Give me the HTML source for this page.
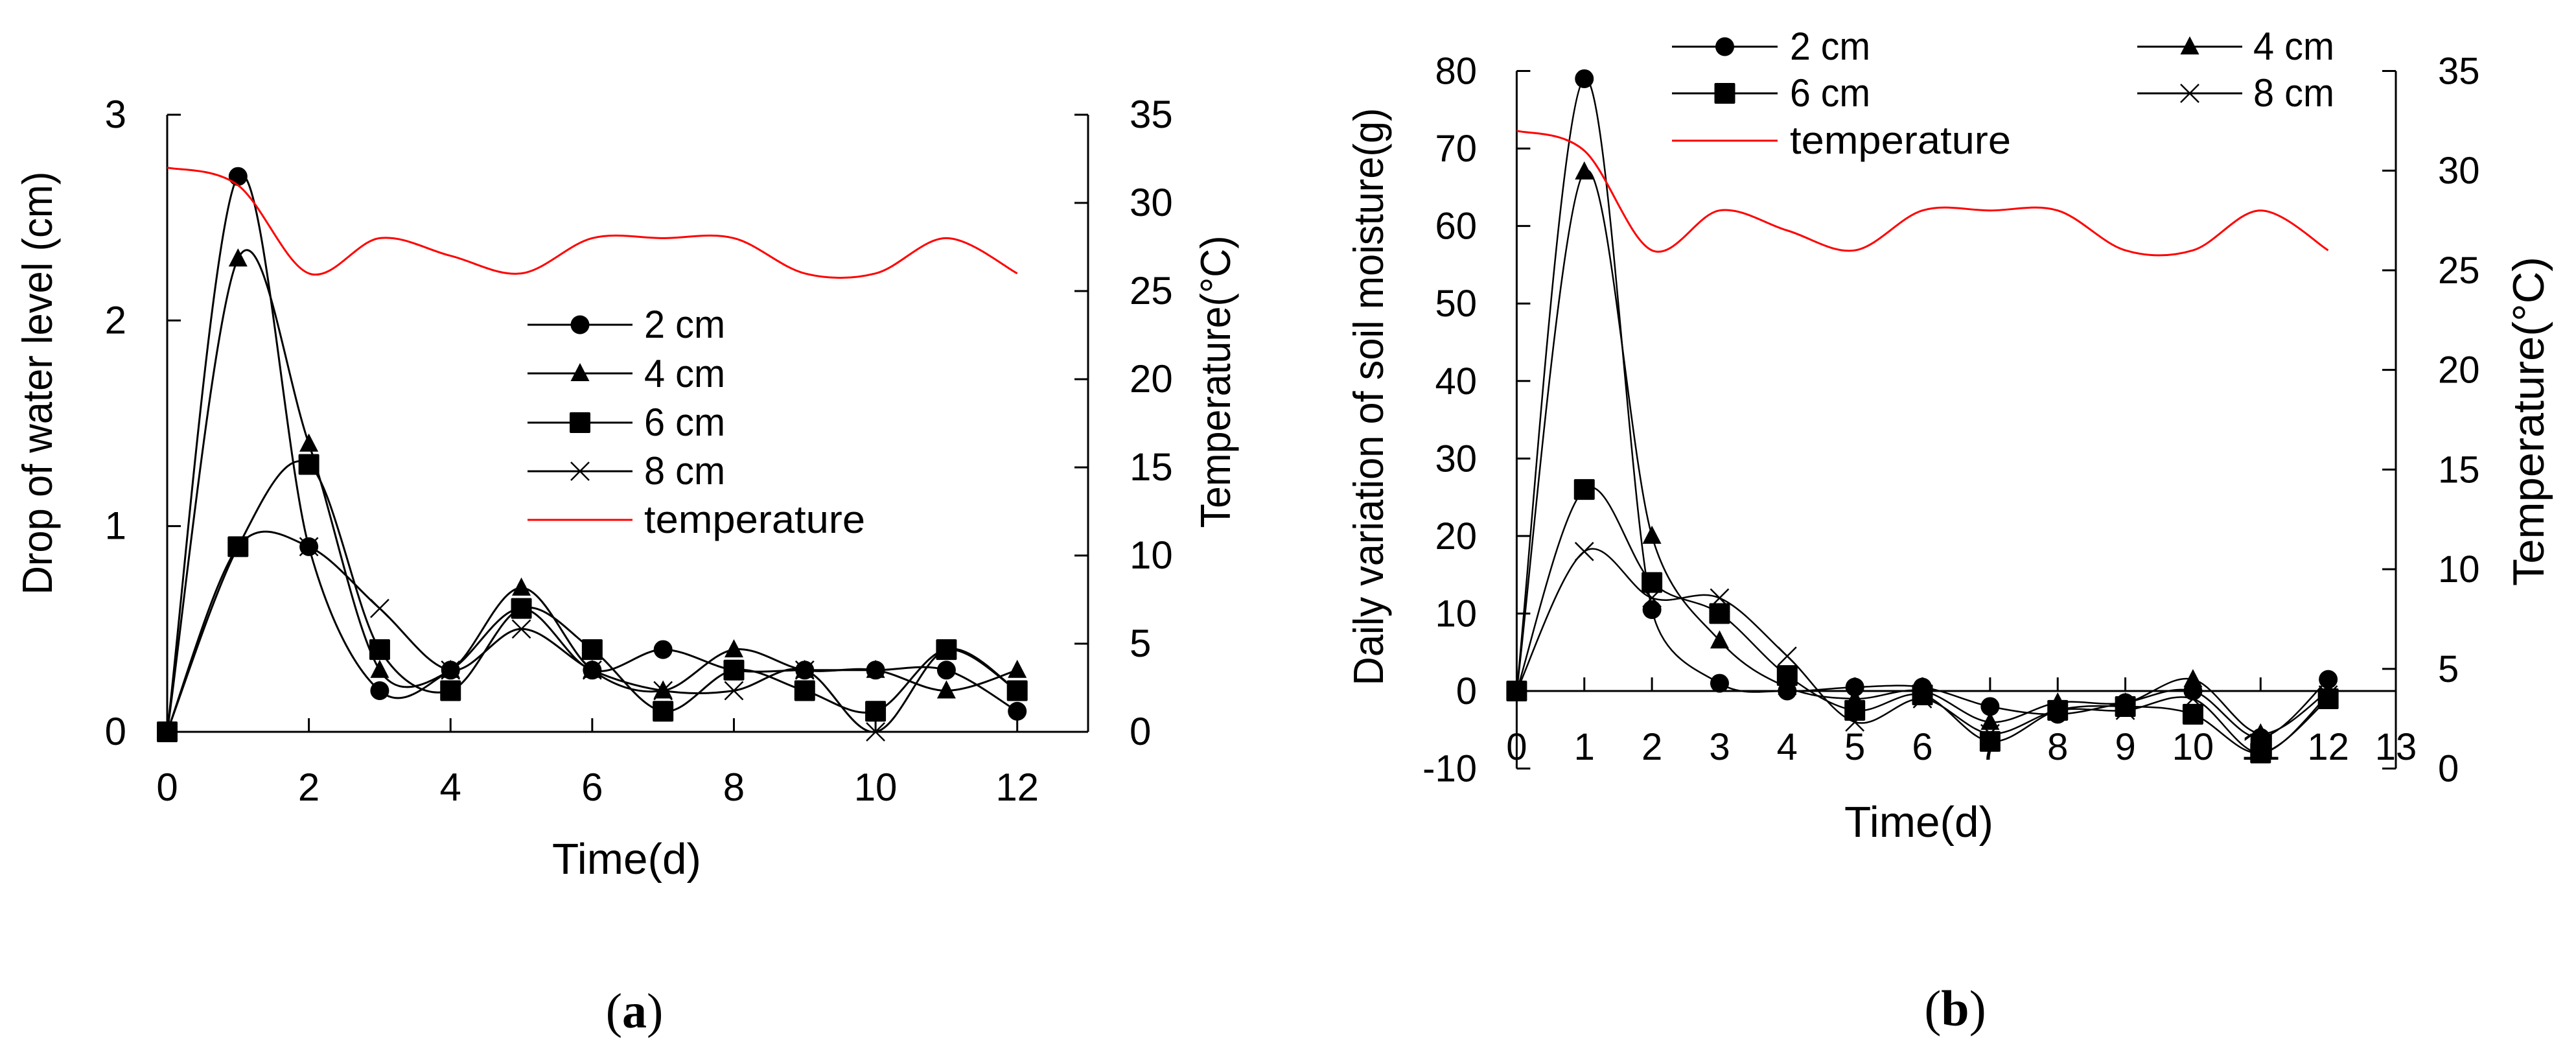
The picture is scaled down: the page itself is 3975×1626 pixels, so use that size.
<!DOCTYPE html>
<html>
<head>
<meta charset="utf-8">
<title>Water level and soil moisture charts</title>
<style>
html,body{margin:0;padding:0;background:#fff}
svg{display:block}
text{font-family:"Liberation Sans",sans-serif;fill:#000}
.cap{font-family:"Liberation Serif",serif}
</style>
</head>
<body>
<svg id="fig" xmlns="http://www.w3.org/2000/svg" width="3975" height="1626" viewBox="0 0 3975 1626">
<rect width="3975" height="1626" fill="#fff"/>
<g id="chart-a">
  <text transform="translate(80,591) rotate(-90)" text-anchor="middle" font-size="65" textLength="653" lengthAdjust="spacingAndGlyphs">Drop of water level (cm)</text>
  <text transform="translate(1898,589) rotate(-90)" text-anchor="middle" font-size="65" textLength="451" lengthAdjust="spacingAndGlyphs">Temperature(°C)</text>
  <text x="967" y="1348" text-anchor="middle" font-size="67" textLength="230" lengthAdjust="spacingAndGlyphs">Time(d)</text>
  <text class="cap" x="979" y="1585" text-anchor="middle" font-size="76">(<tspan font-weight="bold">a</tspan>)</text>
  <g>
    <text x="994" y="521" font-size="60" textLength="125" lengthAdjust="spacingAndGlyphs">2 cm</text>
    <text x="994" y="597" font-size="60" textLength="125" lengthAdjust="spacingAndGlyphs">4 cm</text>
    <text x="994" y="672" font-size="60" textLength="125" lengthAdjust="spacingAndGlyphs">6 cm</text>
    <text x="994" y="747" font-size="60" textLength="125" lengthAdjust="spacingAndGlyphs">8 cm</text>
    <text x="994" y="822" font-size="60" textLength="341" lengthAdjust="spacingAndGlyphs">temperature</text>
  </g>
</g>
<g id="chart-b">
  <text transform="translate(2134,612) rotate(-90)" text-anchor="middle" font-size="65" textLength="891" lengthAdjust="spacingAndGlyphs">Daily variation of soil moisture(g)</text>
  <text transform="translate(3925,650) rotate(-90)" text-anchor="middle" font-size="68" textLength="508" lengthAdjust="spacingAndGlyphs">Temperature(°C)</text>
  <text x="2961" y="1291" text-anchor="middle" font-size="67" textLength="230" lengthAdjust="spacingAndGlyphs">Time(d)</text>
  <text class="cap" x="3017" y="1582" text-anchor="middle" font-size="78">(<tspan font-weight="bold">b</tspan>)</text>
  <g>
    <text x="2762" y="92" font-size="60" textLength="124" lengthAdjust="spacingAndGlyphs">2 cm</text>
    <text x="2762" y="164" font-size="60" textLength="124" lengthAdjust="spacingAndGlyphs">6 cm</text>
    <text x="2762" y="237" font-size="60" textLength="341" lengthAdjust="spacingAndGlyphs">temperature</text>
    <text x="3477" y="92" font-size="60" textLength="125" lengthAdjust="spacingAndGlyphs">4 cm</text>
    <text x="3477" y="164" font-size="60" textLength="125" lengthAdjust="spacingAndGlyphs">8 cm</text>
  </g>
</g>
</svg>
<script>
var days = [0,1,2,3,4,5,6,7,8,9,10,11,12];

var a2cm = [0,2.7,0.9,0.2,0.3,0.6,0.3,0.4,0.3,0.3,0.3,0.3,0.1];
var a4cm = [0,2.3,1.4,0.3,0.3,0.7,0.3,0.2,0.4,0.3,0.3,0.2,0.3];
var a6cm = [0,0.9,1.3,0.4,0.2,0.6,0.4,0.1,0.3,0.2,0.1,0.4,0.2];
var a8cm = [0,0.9,0.9,0.6,0.3,0.5,0.3,0.2,0.2,0.3,0,0.4,0.2];
var aTemp = [32,31,26,28,27,26,28,28,28,26,26,28,26];
var aXTicks = [0,2,4,6,8,10,12];
var aYTicks = [0,1,2,3];
var aTempTicks = [0,5,10,15,20,25,30,35];

var b2cm = [0,79,10.5,1,0,0.5,0.5,-2,-3,-1.5,0,-6,1.5];
var b4cm = [0,67,20,6.5,0.5,-1,0,-4,-1.5,-1.5,1.5,-5.5,0];
var b6cm = [0,26,14,10,2,-2.5,-0.5,-6.5,-2.5,-2,-3,-8,-1];
var b8cm = [0,18,12,12,4.5,-4,-1,-5.5,-2.5,-2.5,-1,-8,-0.5];
var bTemp = [32,31,26,28,27,26,28,28,28,26,26,28,26];
var bXTicks = [0,1,2,3,4,5,6,7,8,9,10,11,12,13];
var bYTicks = [-10,0,10,20,30,40,50,60,70,80];
var bTempTicks = [0,5,10,15,20,25,30,35];

var NS = 'http://www.w3.org/2000/svg';

function mk(parent, tag, attrs, name) {
  var el = document.createElementNS(NS, tag);
  for (var k in attrs) el.setAttribute(k, attrs[k]);
  
  
  parent.appendChild(el);
  return el;
}

function seg(parent, x1, y1, x2, y2, w, name) {
  return mk(parent, 'line', {x1:x1, y1:y1, x2:x2, y2:y2, stroke:'#000', 'stroke-width':w}, name);
}

function label(parent, str, x, y, anchor, size, name) {
  var t = mk(parent, 'text', {x:x, y:y, 'text-anchor':anchor, 'font-size':size}, name);
  t.textContent = str;
  return t;
}

function handle(dx, dy, chord) {
  var len = Math.sqrt(dx*dx + dy*dy);
  var maxLen = chord * 0.5;
  if (len > maxLen && len > 0) {
    return [dx * maxLen / len, dy * maxLen / len];
  }
  return [dx, dy];
}

function smoothPath(xs, ys, sx, sy) {
  var d = 'M' + sx(xs[0]).toFixed(1) + ' ' + sy(ys[0]).toFixed(1);
  for (var i = 0; i < xs.length - 1; i++) {
    var x0 = sx(xs[Math.max(i-1,0)]), y0 = sy(ys[Math.max(i-1,0)]);
    var x1 = sx(xs[i]), y1 = sy(ys[i]);
    var x2 = sx(xs[i+1]), y2 = sy(ys[i+1]);
    var j = Math.min(i+2, xs.length-1);
    var x3 = sx(xs[j]), y3 = sy(ys[j]);
    var chord = Math.sqrt((x2-x1)*(x2-x1) + (y2-y1)*(y2-y1));
    var h1 = handle((x2-x0)/6, (y2-y0)/6, chord);
    var h2 = handle((x3-x1)/6, (y3-y1)/6, chord);
    d += ' C' + (x1+h1[0]).toFixed(1) + ' ' + (y1+h1[1]).toFixed(1) + ' ' +
         (x2-h2[0]).toFixed(1) + ' ' + (y2-h2[1]).toFixed(1) + ' ' +
         x2.toFixed(1) + ' ' + y2.toFixed(1);
  }
  return d;
}

function marker(parent, kind, x, y, name) {
  if (kind === 'circle') {
    return mk(parent, 'circle', {cx:x, cy:y, r:14.5, fill:'#000'}, name);
  }
  if (kind === 'triangle') {
    return mk(parent, 'polygon', {points:(x-14.5)+','+(y+12)+' '+(x+14.5)+','+(y+12)+' '+x+','+(y-16), fill:'#000'}, name);
  }
  if (kind === 'square') {
    return mk(parent, 'rect', {x:x-16, y:y-16, width:32, height:32, rx:2, fill:'#000'}, name);
  }
  return mk(parent, 'path', {d:'M'+(x-14)+' '+(y-14)+' L'+(x+14)+' '+(y+14)+' M'+(x+14)+' '+(y-14)+' L'+(x-14)+' '+(y+14), stroke:'#000', 'stroke-width':2.5, fill:'none'}, name);
}

function drawChart(cfg) {
  var host = document.getElementById(cfg.id);
  var p = cfg.plot;
  var sx = function (v) { return p.x0 + v * (p.x1 - p.x0) / cfg.xMax; };
  var sy = function (v) { return p.yBottom - (v - cfg.yMin) * (p.yBottom - p.yTop) / (cfg.yMax - cfg.yMin); };
  var st = function (v) { return p.yBottom - v * (p.yBottom - p.yTop) / cfg.tMax; };
  var y0 = sy(0);
  var axes = mk(host, 'g', {}, 'axes');
  seg(axes, p.x0, p.yTop, p.x0, p.yBottom, 3, 'y-axis-line');
  seg(axes, p.x1, p.yTop, p.x1, p.yBottom, 3, 'temperature-axis-line');
  seg(axes, p.x0, y0, p.x1, y0, 3, 'x-axis-line');
  cfg.yTicks.forEach(function (v) {
    seg(axes, p.x0, sy(v), p.x0 + 21, sy(v), 3, 'y-tick');
    label(axes, String(v), p.yLabelX, sy(v) + 20, 'end', cfg.tickSize, 'y-tick-label');
  });
  cfg.tTicks.forEach(function (v) {
    seg(axes, p.x1 - 21, st(v), p.x1, st(v), 3, 'temperature-tick');
    label(axes, String(v), p.tLabelX, st(v) + 20, 'start', cfg.tickSize, 'temperature-tick-label');
  });
  cfg.xTicks.forEach(function (v) {
    if (v > 0 && v < cfg.xMax) seg(axes, sx(v), y0 - 21, sx(v), y0, 3, 'x-tick');
    label(axes, String(v), sx(v), p.xLabelY, 'middle', cfg.tickSize, 'x-tick-label');
  });
  var kinds = ['circle', 'triangle', 'square', 'cross'];
  var names = ['2cm', '4cm', '6cm', '8cm'];
  cfg.series.forEach(function (vals, i) {
    var g = mk(host, 'g', {}, 'series-' + names[i]);
    mk(g, 'path', {d:smoothPath(days, vals, sx, sy), fill:'none', stroke:'#000', 'stroke-width':cfg.lineW}, 'line-' + names[i]);
    vals.forEach(function (v, k) {
      marker(g, kinds[i], sx(days[k]), sy(v), 'point-' + names[i]);
    });
  });
  mk(host, 'path', {d:smoothPath(days, cfg.temp, sx, st), fill:'none', stroke:'#f00', 'stroke-width':3}, 'temperature-line');
  var lg = mk(host, 'g', {}, 'legend-keys');
  cfg.legend.forEach(function (e) {
    mk(lg, 'line', {x1:e.x1, y1:e.y, x2:e.x2, y2:e.y, stroke:e.kind ? '#000' : '#f00', 'stroke-width':3}, 'legend-line');
    if (e.kind) marker(lg, e.kind, (e.x1 + e.x2) / 2, e.y, 'legend-marker');
  });
}

drawChart({
  id:'chart-a',
  plot:{x0:258, x1:1679, yTop:177, yBottom:1129, yLabelX:195, tLabelX:1743, xLabelY:1235},
  xMax:13, yMin:0, yMax:3, tMax:35, tickSize:60, lineW:3,
  xTicks:aXTicks, yTicks:aYTicks, tTicks:aTempTicks,
  series:[a2cm,a4cm,a6cm,a8cm], temp:aTemp,
  legend:[
    {x1:814,x2:976,y:501,kind:'circle'},
    {x1:814,x2:976,y:576,kind:'triangle'},
    {x1:814,x2:976,y:652,kind:'square'},
    {x1:814,x2:976,y:727,kind:'cross'},
    {x1:814,x2:976,y:802,kind:null}
  ]
});

drawChart({
  id:'chart-b',
  plot:{x0:2340.4, x1:3697, yTop:109.5, yBottom:1185.6, yLabelX:2279, tLabelX:3762, xLabelY:1172},
  xMax:13, yMin:-10, yMax:80, tMax:35, tickSize:58, lineW:2.5,
  xTicks:bXTicks, yTicks:bYTicks, tTicks:bTempTicks,
  series:[b2cm,b4cm,b6cm,b8cm], temp:bTemp,
  legend:[
    {x1:2580,x2:2743,y:72,kind:'circle'},
    {x1:2580,x2:2743,y:144,kind:'square'},
    {x1:2580,x2:2743,y:217,kind:null},
    {x1:3298,x2:3460,y:72,kind:'triangle'},
    {x1:3298,x2:3460,y:144,kind:'cross'}
  ]
});
</script>
</body>
</html>
